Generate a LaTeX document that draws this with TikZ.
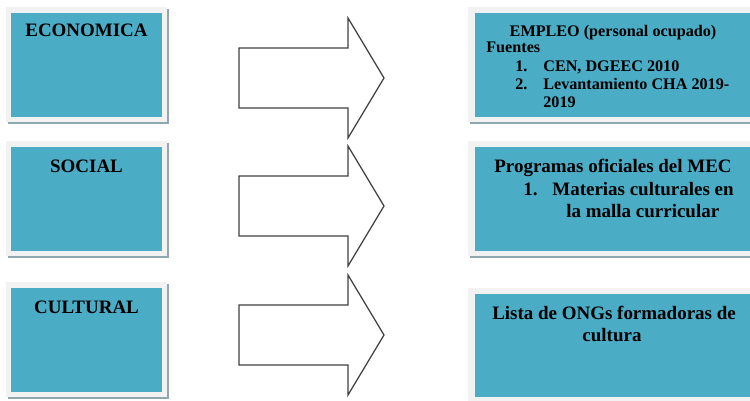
\documentclass[tikz,border=0pt]{standalone}
\usepackage{fontspec}
\setmainfont{Liberation Serif}
\usetikzlibrary{calc}

\definecolor{boxblue}{RGB}{75,172,198}
\definecolor{framegray}{RGB}{242,242,242}
\definecolor{shadowgray}{RGB}{143,168,176}

\begin{document}
\begin{tikzpicture}[x=0.02cm, y=-0.02cm,
  frame/.style={fill=framegray},
  shadow/.style={fill=shadowgray},
  panel/.style={fill=boxblue},
  lbl/.style={font=\fontsize{10.8}{12}\selectfont\bfseries, anchor=base, inner sep=0pt},
  smalllbl/.style={lbl, font=\fontsize{9.2}{11}\selectfont\bfseries},
  blockarrow/.style={draw=black!75, line width=0.7pt, fill=white, line join=miter}]

\clip (0,0) rectangle (750,400);

% left boxes
\foreach \t in {13,147,288} {
 \fill[shadow] (8,\t-4) rectangle (169,\t+111);
 \fill[frame] (6,\t-6) rectangle (167,\t+109);
 \fill[panel] (11,\t) rectangle (162,\t+104);
};

% right boxes
\foreach \t/\b in {13/117,147/251,294/397} {
 \fill[shadow] (470,\t-4) rectangle (760,\b+7);
 \fill[frame] (468,\t-6) rectangle (760,\b+5);
 \fill[panel] (475,\t) rectangle (760,\b);
};

% block arrows
\foreach \c in {78,206,335} {
 \draw[blockarrow] (239,\c-30) -- (348,\c-30) -- (348,\c-60) -- (384,\c)
   -- (348,\c+60) -- (348,\c+30) -- (239,\c+30) -- cycle;
};

% left labels
\node[lbl] (eco) at (86.5,36) {ECONOMICA};
\node[lbl] (soc) at (86.5,172) {SOCIAL};
\node[lbl] (cul) at (86.5,313) {CULTURAL};

% right labels
\node[smalllbl] (empleo) at (613,36) {EMPLEO (personal ocupado)};
\node[smalllbl, anchor=base west] (fuentes) at (486,52) {Fuentes};
\node[smalllbl, anchor=base west] (n1) at (515,71) {1.};
\node[smalllbl, anchor=base west] (cen) at (543,71) {CEN, DGEEC 2010};
\node[smalllbl, anchor=base west] (n2) at (515,89) {2.};
\node[smalllbl, anchor=base west] (cha) at (543,89) {Levantamiento CHA 2019-};
\node[smalllbl, anchor=base west] (cha2) at (543,107) {2019};

\node[lbl] (mec) at (613,172) {Programas oficiales del MEC};
\node[lbl, anchor=base west] (m1) at (523,195) {1.};
\node[lbl, anchor=base west] (mat) at (552,195) {Materias culturales en};
\node[lbl, anchor=base west] (malla) at (566,217) {la malla curricular};

\node[lbl] (ong) at (614,319) {Lista de ONGs formadoras de};
\node[lbl] (cult) at (612,341) {cultura};

\end{tikzpicture}
\end{document}
